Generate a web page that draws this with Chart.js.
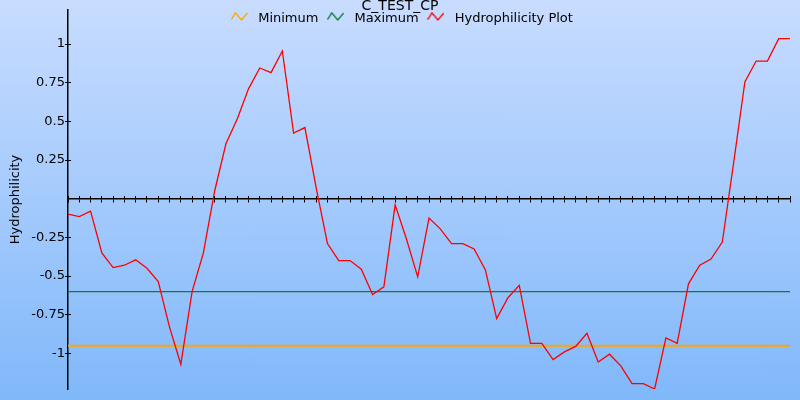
<!DOCTYPE html>
<html>
<head>
<meta charset="utf-8">
<script src="https://cdn.jsdelivr.net/npm/chart.js@4"></script>
<style>
html,body{margin:0;padding:0;}
#wrap{width:800px;height:400px;background:linear-gradient(to bottom,#c8dcff 0%,#80b8fa 100%);}
canvas{display:block;}
</style>
</head>
<body>
<div id="wrap"><canvas id="c" width="800" height="400"></canvas></div>
<script>
const chartTitle = 'C_TEST_CP';
const yAxisTitle = 'Hydrophilicity';
const seriesNames = ['Minimum', 'Maximum', 'Hydrophilicity Plot'];
const seriesColors = ['#ffa500', '#107c2e', '#ff0000'];

const positions = ['1','2','3','4','5','6','7','8','9','10','11','12','13','14','15','16','17','18','19','20',
  '21','22','23','24','25','26','27','28','29','30','31','32','33','34','35','36','37','38','39','40',
  '41','42','43','44','45','46','47','48','49','50','51','52','53','54','55','56','57','58','59','60',
  '61','62','63','64','65'];

const hydrophilicity = [
  -0.10, -0.115, -0.08, -0.35, -0.445, -0.43, -0.395, -0.45, -0.535, -0.83,
  -1.07, -0.60, -0.35, 0.05, 0.355, 0.515, 0.71, 0.845, 0.815, 0.955,
  0.425, 0.46, 0.07, -0.29, -0.40, -0.40, -0.455, -0.62, -0.57, -0.04,
  -0.26, -0.505, -0.125, -0.195, -0.29, -0.29, -0.325, -0.46, -0.775, -0.64,
  -0.56, -0.935, -0.935, -1.04, -0.99, -0.955, -0.87, -1.055, -1.005, -1.08,
  -1.195, -1.195, -1.23, -0.90, -0.935, -0.55, -0.43, -0.39, -0.28, 0.23,
  0.755, 0.89, 0.89, 1.035, 1.035
];

const minimumValue = -0.95;
const maximumValue = -0.60;

const yTickValues = [-1, -0.75, -0.5, -0.25, 0.25, 0.5, 0.75, 1];
const yMin = -1.23;
const yMax = 1.22;

Chart.defaults.font.family = "'DejaVu Sans', sans-serif";
Chart.defaults.color = '#000';

function makeIcon(color) {
  const c = document.createElement('canvas');
  c.width = 17; c.height = 13;
  const g = c.getContext('2d');
  g.strokeStyle = color;
  g.lineWidth = 1.3;
  g.lineJoin = 'miter';
  g.beginPath();
  g.moveTo(0.5, 7.5);
  g.lineTo(4.5, 0.8);
  g.lineTo(10.5, 8);
  g.lineTo(16.5, 1);
  g.stroke();
  return c;
}

const icons = seriesColors.map(makeIcon);

const legendOverlay = {
  id: 'legendOverlay',
  beforeDraw(chart) {
    const lg = chart.legend;
    if (lg) { lg.bottom = lg.top + 30; lg.height = 30; }
  }
};

const first = positions[0];
const last = positions[positions.length - 1];

new Chart(document.getElementById('c'), {
  type: 'line',
  data: {
    labels: positions,
    datasets: [
      {
        label: seriesNames[0],
        data: [{x: first, y: minimumValue}, {x: last, y: minimumValue}],
        borderColor: seriesColors[0],
        backgroundColor: seriesColors[0],
        borderWidth: 2,
        pointRadius: 0,
        pointStyle: icons[0],
        order: 2
      },
      {
        label: seriesNames[1],
        data: [{x: first, y: maximumValue}, {x: last, y: maximumValue}],
        borderColor: seriesColors[1],
        backgroundColor: seriesColors[1],
        borderWidth: 1.2,
        pointRadius: 0,
        pointStyle: icons[1],
        order: 1
      },
      {
        label: seriesNames[2],
        data: hydrophilicity,
        borderColor: seriesColors[2],
        backgroundColor: seriesColors[2],
        borderWidth: 1.3,
        pointRadius: 0,
        pointStyle: icons[2],
        tension: 0,
        order: 0
      }
    ]
  },
  options: {
    responsive: false,
    animation: false,
    devicePixelRatio: 1,
    layout: { padding: { left: 10, right: 10, top: 0, bottom: 11 } },
    scales: {
      x: {
        type: 'category',
        axis: 'x',
        position: { y: 0 },
        offset: false,
        ticks: { display: false, autoSkip: false },
        grid: { drawOnChartArea: false, drawTicks: true, tickLength: 3, color: '#000', lineWidth: 1 },
        border: { display: true, color: '#000', width: 1.5 }
      },
      x2: {
        type: 'category',
        axis: 'x',
        position: { y: 0 },
        offset: false,
        ticks: { display: false, autoSkip: false },
        grid: { drawOnChartArea: false, drawTicks: true, tickLength: -3, color: '#000', lineWidth: 1 },
        border: { display: false }
      },
      y: {
        type: 'linear',
        axis: 'y',
        position: 'left',
        min: yMin,
        max: yMax,
        afterBuildTicks: (s) => { s.ticks = yTickValues.map(v => ({ value: v })); },
        afterFit: (s) => { s.width = 58; },
        ticks: { padding: 0, color: '#000', font: { size: 13 }, callback: (v) => String(v) },
        grid: { drawOnChartArea: false, drawTicks: true, tickLength: 3, color: '#000', lineWidth: 1 },
        border: { display: true, color: '#000', width: 1.5 },
        title: { display: true, text: yAxisTitle, color: '#000', font: { size: 13 }, padding: { top: -2.3, bottom: 0 } }
      },
      y2: {
        type: 'linear',
        axis: 'y',
        position: { x: 0 },
        min: yMin,
        max: yMax,
        afterBuildTicks: (s) => { s.ticks = yTickValues.map(v => ({ value: v })); },
        ticks: { display: false },
        grid: { drawOnChartArea: false, drawTicks: true, tickLength: -3, color: '#000', lineWidth: 1 },
        border: { display: false }
      }
    },
    plugins: {
      title: { display: false },
      tooltip: { enabled: false },
      legend: {
        display: true,
        position: 'top',
        align: 'center',
        maxHeight: 10,
        title: {
          display: true,
          text: chartTitle,
          color: '#000',
          font: { size: 14 },
          padding: { top: -1, bottom: -8.8 }
        },
        labels: {
          usePointStyle: true,
          pointStyleWidth: 24.6,
          padding: 5,
          color: '#000',
          font: { size: 13 },
          sort: (a, b) => a.datasetIndex - b.datasetIndex
        }
      }
    }
  },
  plugins: [legendOverlay]
});
</script>
</body>
</html>
